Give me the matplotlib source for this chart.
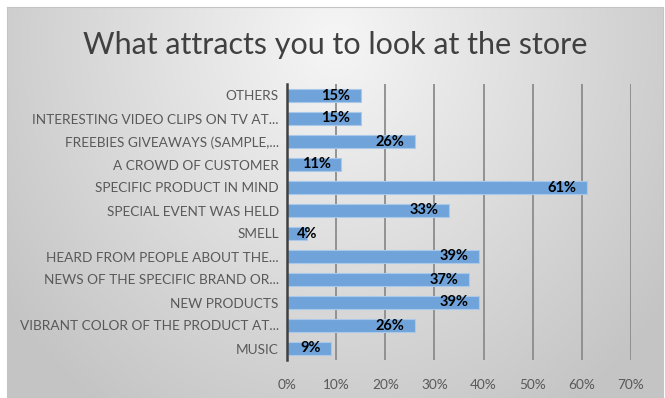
import numpy as np
import matplotlib
matplotlib.use("Agg")
import matplotlib.pyplot as plt
from matplotlib.ticker import PercentFormatter

# Survey answers, listed bottom-to-top as drawn
categories = [
    "MUSIC",
    "VIBRANT COLOR OF THE PRODUCT AT...",
    "NEW PRODUCTS",
    "NEWS OF THE SPECIFIC BRAND OR...",
    "HEARD FROM PEOPLE ABOUT THE...",
    "SMELL",
    "SPECIAL EVENT WAS HELD",
    "SPECIFIC PRODUCT IN MIND",
    "A CROWD OF CUSTOMER",
    "FREEBIES GIVEAWAYS (SAMPLE,...",
    "INTERESTING VIDEO CLIPS ON TV AT...",
    "OTHERS",
]
percentages = [9, 26, 39, 37, 39, 4, 33, 61, 11, 26, 15, 15]
x_ticks = [0, 10, 20, 30, 40, 50, 60, 70]

plt.rcParams["font.family"] = ["Lato", "DejaVu Sans"]

W, H = 665, 398
fig = plt.figure(figsize=(W / 100, H / 100), dpi=100)
fig.patch.set_facecolor("white")

# Chart-area background: soft radial gray gradient, lightest near the title
bg = fig.add_axes([0, 0, 1, 1], zorder=0)
yy, xx = np.mgrid[0:H, 0:W]
r = np.sqrt(((xx - 335) / 330.0) ** 2 + ((yy - 40) / 360.0) ** 2)
v = (246 - 40 * np.clip(r, 0, 1.25)) / 255.0
img = np.ones((H, W, 3))
x0, y0, x1 = 7, 7, 663
img[y0:, x0:x1, :] = v[y0:, x0:x1, None]
bg.imshow(img, extent=(0, W, H, 0), aspect="auto", interpolation="bilinear")
bg.plot([x0, x1, x1], [y0, y0, H], color="#c4c4c4", lw=0.8)
bg.plot([x0, x0], [y0, H], color="#c4c4c4", lw=0.8)
bg.set_xlim(0, W)
bg.set_ylim(H, 0)
bg.axis("off")

ax = fig.add_axes([287 / W, 1 - 360 / H, (631 - 287) / W, (360 - 84) / H], zorder=1)
ax.patch.set_alpha(0)

y = np.arange(len(categories))
ax.barh(y, percentages, height=0.58, color="#6FA3D9", edgecolor="#A9C8EA",
        linewidth=0.8, zorder=3)

for yi, val in zip(y, percentages):
    label = f"{val}%"
    if val < 8:
        ax.text(2, yi, label, ha="left", va="center", fontsize=10.5,
                fontweight="bold", color="black", zorder=4)
    else:
        ax.text(val - 2.1, yi, label, ha="right", va="center", fontsize=10.5,
                fontweight="bold", color="black", zorder=4)

ax.set_xlim(0, 70)
ax.set_ylim(-0.5, len(categories) - 0.5)
ax.set_xticks(x_ticks)
ax.xaxis.set_major_formatter(PercentFormatter(decimals=0))
ax.set_yticks(y)
ax.set_yticklabels(categories)
ax.tick_params(axis="both", length=0, colors="#595959", labelsize=9.8)
ax.tick_params(axis="y", pad=6)
ax.tick_params(axis="x", pad=14)
ax.grid(axis="x", color="#8c8c8c", linewidth=1.3, zorder=0)
ax.set_axisbelow(True)
for side in ("top", "right", "bottom"):
    ax.spines[side].set_visible(False)
ax.spines["left"].set_color("#404040")
ax.spines["left"].set_linewidth(1.8)
ax.spines["left"].set_zorder(5)

fig.text(335 / W, 1 - 45 / H, "What attracts you to look at the store",
         ha="center", va="center", fontsize=22, color="#404040")

fig.savefig("out.png", dpi=100)
